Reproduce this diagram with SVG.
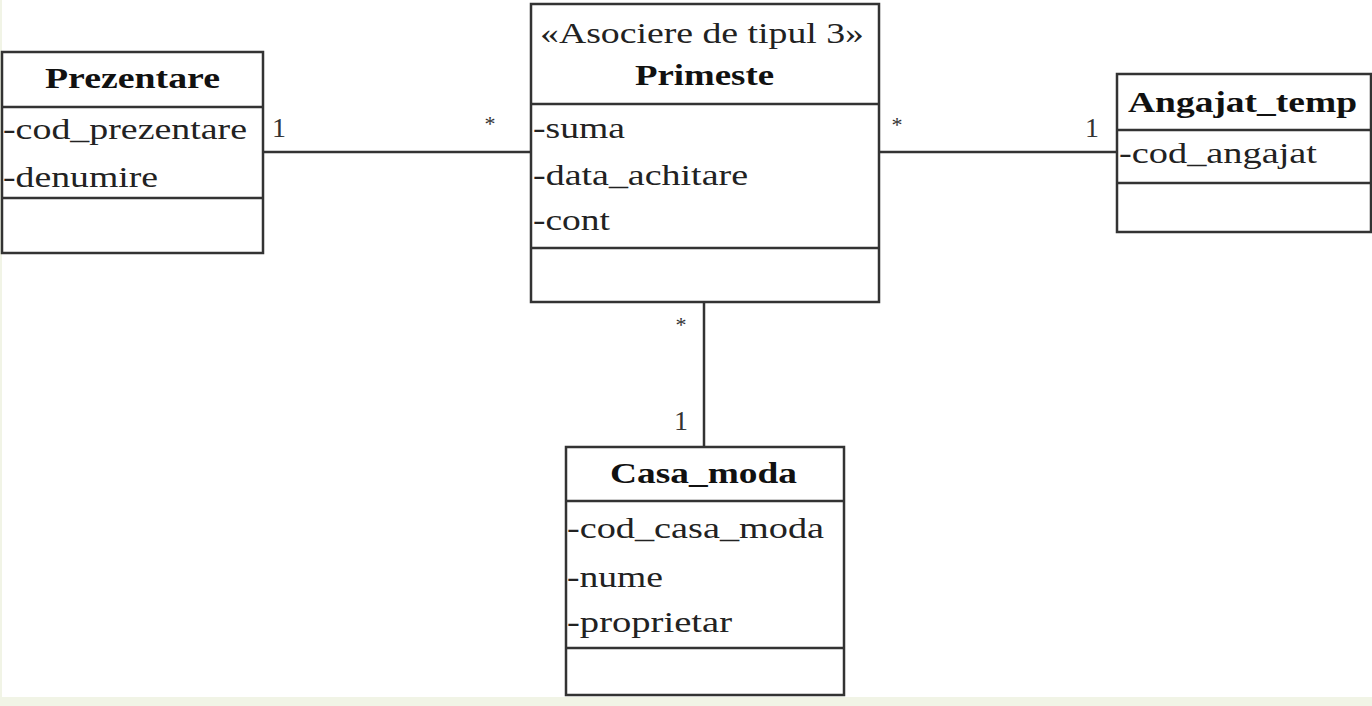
<svg xmlns="http://www.w3.org/2000/svg" width="1372" height="706" viewBox="0 0 1372 706">
<style>
.box{fill:#fff;stroke:#333;stroke-width:2.5}
.sep{stroke:#333;stroke-width:2.5}
.conn{stroke:#333;stroke-width:2.5;fill:none}
text{font-family:'Liberation Serif','Times New Roman',serif}
.t{font-size:30px;fill:#222}
.b{font-size:30px;font-weight:bold;fill:#111}
.m{font-size:28px;fill:#333}
.s{font-size:22px;fill:#333}
</style>
<rect x="0" y="0" width="1372" height="706" fill="#fff"/>
<rect x="0" y="697" width="1372" height="9" fill="#f1f4e6"/>
<rect x="0" y="0" width="2" height="706" fill="#f1f4e6"/>
<g id="connectors">
<line class="conn" x1="263" y1="152" x2="530" y2="152"/>
<line class="conn" x1="879" y1="152" x2="1117" y2="152"/>
<line class="conn" x1="704" y1="302" x2="704" y2="447"/>
<text class="m" x="272" y="137">1</text>
<text class="s" x="484.5" y="131">*</text>
<text class="s" x="891.5" y="132">*</text>
<text class="m" x="1085" y="137">1</text>
<text class="s" x="675.5" y="332">*</text>
<text class="m" x="674" y="430">1</text>
</g>
<g id="Prezentare">
<rect class="box" x="2" y="52" width="261" height="201"/>
<line class="sep" x1="2" y1="107" x2="263" y2="107"/>
<line class="sep" x1="2" y1="198" x2="263" y2="198"/>
<text class="b" x="45" y="88" textLength="175" lengthAdjust="spacingAndGlyphs">Prezentare</text>
<text class="t" x="3" y="139" textLength="244" lengthAdjust="spacingAndGlyphs">-cod_prezentare</text>
<text class="t" x="3" y="187" textLength="155" lengthAdjust="spacingAndGlyphs">-denumire</text>
</g>
<g id="Primeste">
<rect class="box" x="531" y="4" width="348" height="298"/>
<line class="sep" x1="531" y1="104" x2="879" y2="104"/>
<line class="sep" x1="531" y1="248" x2="879" y2="248"/>
<text class="t" x="540" y="43" textLength="324" lengthAdjust="spacingAndGlyphs">«Asociere de tipul 3»</text>
<text class="b" x="635" y="85" textLength="139" lengthAdjust="spacingAndGlyphs">Primeste</text>
<text class="t" x="533" y="138" textLength="92" lengthAdjust="spacingAndGlyphs">-suma</text>
<text class="t" x="533" y="185" textLength="215" lengthAdjust="spacingAndGlyphs">-data_achitare</text>
<text class="t" x="533" y="230" textLength="77" lengthAdjust="spacingAndGlyphs">-cont</text>
</g>
<g id="Angajat_temp">
<rect class="box" x="1117" y="74" width="254" height="158"/>
<line class="sep" x1="1117" y1="130" x2="1371" y2="130"/>
<line class="sep" x1="1117" y1="183" x2="1371" y2="183"/>
<text class="b" x="1128" y="112" textLength="229" lengthAdjust="spacingAndGlyphs">Angajat_temp</text>
<text class="t" x="1119" y="163" textLength="198" lengthAdjust="spacingAndGlyphs">-cod_angajat</text>
</g>
<g id="Casa_moda">
<rect class="box" x="566" y="447" width="278" height="248"/>
<line class="sep" x1="566" y1="501" x2="844" y2="501"/>
<line class="sep" x1="566" y1="648" x2="844" y2="648"/>
<text class="b" x="610" y="483" textLength="187" lengthAdjust="spacingAndGlyphs">Casa_moda</text>
<text class="t" x="567" y="538" textLength="257" lengthAdjust="spacingAndGlyphs">-cod_casa_moda</text>
<text class="t" x="567" y="587" textLength="96" lengthAdjust="spacingAndGlyphs">-nume</text>
<text class="t" x="567" y="632" textLength="165" lengthAdjust="spacingAndGlyphs">-proprietar</text>
</g>
</svg>
